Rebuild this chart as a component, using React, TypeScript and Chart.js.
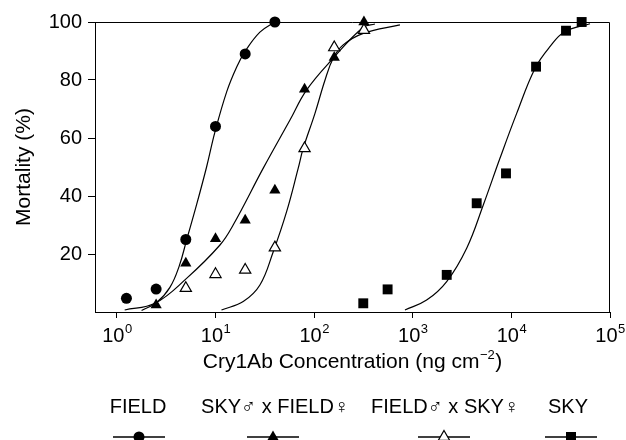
import React, { useEffect, useRef } from "react";
import { Chart, registerables } from "chart.js";

Chart.register(...registerables);

// ---- observed data (concentration in ng cm^-2, mortality %) ----
const FIELD_X = [1.25, 2.5, 5, 10, 20, 40];
const FIELD_Y = [4.7, 7.9, 25, 64, 89, 100];

const SKYxFIELD_X = [2.5, 5, 10, 20, 40, 80, 160, 320];
const SKYxFIELD_Y = [2.4, 16.8, 25.3, 31.6, 42, 76.8, 87.8, 100];

const FIELDxSKY_X = [5, 10, 20, 40, 80, 160, 320];
const FIELDxSKY_Y = [8.2, 13, 14.5, 22.2, 56.4, 91.2, 97.2];

const SKY_X = [315, 556, 2210, 4450, 8820, 17800, 35800, 51600];
const SKY_Y = [3.0, 7.8, 12.8, 37.5, 47.8, 84.6, 97, 100];

// ---- fitted curves ----
const FIELD_FIT_X = [1.78, 2.53, 3.45, 4.3, 5.09, 6.43, 8.12, 9.86, 13, 16.4, 19.9, 28.2, 40];
const FIELD_FIT_Y = [0.5, 3.3, 8.5, 16, 24.8, 37, 50, 62, 76, 84.5, 89.8, 96.5, 100];

const SKYxFIELD_FIT_X = [1.2, 2.43, 5.09, 11.1, 15.1, 30.5, 56.9, 84, 156, 315, 414];
const SKYxFIELD_FIT_Y = [0.7, 3.0, 11.6, 23.1, 30, 49.6, 66.2, 76.6, 87.5, 98.2, 99.3];

const FIELDxSKY_FIT_X = [11.5, 19.1, 28.2, 38.5, 52.6, 69, 77.5, 102, 129, 156, 197, 315, 741];
const FIELDxSKY_FIT_Y = [0.7, 3.6, 9.3, 20.8, 34.6, 49.6, 56.4, 68.5, 80, 87.5, 92.1, 96.1, 99];

const SKY_FIT_X = [834, 1383, 2208, 3522, 5190, 7660, 11320, 17350, 24600, 35000, 62700];
const SKY_FIT_Y = [0.7, 4.1, 10.5, 22, 36.9, 53, 68.5, 84.0, 91.5, 96.7, 99.4];

// ---- axes ----
const X_TICKS = [1, 10, 100, 1000, 10000, 100000];
const X_EXPONENTS = ["0", "1", "2", "3", "4", "5"];
const Y_TICKS = [20, 40, 60, 80, 100];

const LEGEND_LABELS = ["FIELD", "SKY\u2642 x FIELD\u2640", "FIELD\u2642 x SKY\u2640", "SKY"];
const LEGEND_STYLES = ["circle", "triangle", "openTriangle", "rect"];

const FONT = "'Liberation Sans', Arial, Helvetica, 'DejaVu Sans', sans-serif";

const toPts = (xs: number[], ys: number[]) => xs.map((x, i) => ({ x, y: ys[i] }));

function drawMarker(ctx: CanvasRenderingContext2D, style: string, x: number, y: number) {
  ctx.save();
  ctx.fillStyle = "#000";
  ctx.strokeStyle = "#000";
  ctx.lineWidth = 1.2;
  ctx.beginPath();
  if (style === "circle") {
    ctx.arc(x, y, 5.5, 0, Math.PI * 2);
    ctx.fill();
  } else if (style === "rect") {
    ctx.fillRect(x - 5, y - 5, 10, 10);
  } else {
    const r = 6.5;
    ctx.moveTo(x, y - r);
    ctx.lineTo(x + r * Math.sin((2 * Math.PI) / 3), y + r / 2);
    ctx.lineTo(x - r * Math.sin((2 * Math.PI) / 3), y + r / 2);
    ctx.closePath();
    if (style === "triangle") ctx.fill();
    else {
      ctx.fillStyle = "#fff";
      ctx.fill();
      ctx.stroke();
    }
  }
  ctx.restore();
}

const textPlugin = {
  id: "textPlugin",
  afterDraw(chart: any) {
    const ctx: CanvasRenderingContext2D = chart.ctx;
    const { left, right, top, bottom } = chart.chartArea;
    const xs = chart.scales.x;
    ctx.save();
    // box
    ctx.strokeStyle = "#000";
    ctx.lineWidth = 1;
    ctx.beginPath();
    ctx.moveTo(left, top + 0.5);
    ctx.lineTo(right - 0.5, top + 0.5);
    ctx.lineTo(right - 0.5, bottom);
    ctx.stroke();

    ctx.fillStyle = "#000";
    ctx.textBaseline = "alphabetic";
    // x tick labels: 10^n
    X_TICKS.forEach((v, i) => {
      const px = xs.getPixelForValue(v);
      ctx.font = `20px ${FONT}`;
      const w1 = ctx.measureText("10").width;
      ctx.font = `13px ${FONT}`;
      const w2 = ctx.measureText(X_EXPONENTS[i]).width;
      const start = px - (w1 + w2) / 2;
      ctx.font = `20px ${FONT}`;
      ctx.textAlign = "left";
      ctx.fillText("10", start, 342);
      ctx.font = `13px ${FONT}`;
      ctx.fillText(X_EXPONENTS[i], start + w1 + 0.5, 333);
    });

    // x title
    const parts = ["Cry1Ab Concentration (ng cm", "\u22122", ")"];
    ctx.font = `21px ${FONT}`;
    const a = ctx.measureText(parts[0]).width;
    const c = ctx.measureText(parts[2]).width;
    ctx.font = `13px ${FONT}`;
    const b = ctx.measureText(parts[1]).width;
    const sx = (left + right) / 2 - (a + b + c + 1) / 2;
    ctx.textAlign = "left";
    ctx.font = `21px ${FONT}`;
    ctx.fillText(parts[0], sx, 368);
    ctx.font = `13px ${FONT}`;
    ctx.fillText(parts[1], sx + a + 0.5, 359);
    ctx.font = `21px ${FONT}`;
    ctx.fillText(parts[2], sx + a + b + 1, 368);

    // y title
    ctx.save();
    ctx.translate(24, (top + bottom) / 2);
    ctx.rotate(-Math.PI / 2);
    ctx.textAlign = "center";
    ctx.textBaseline = "middle";
    ctx.font = `21px ${FONT}`;
    ctx.fillText("Mortality (%)", 0, 0);
    ctx.restore();

    // legend
    const textCenters = [138, 275, 445, 568];
    const symCenters = [139, 273, 444, 571];
    ctx.font = `20px ${FONT}`;
    ctx.textAlign = "center";
    LEGEND_LABELS.forEach((lab, i) => {
      ctx.fillText(lab, textCenters[i], 413);
      ctx.beginPath();
      ctx.lineWidth = 1.3;
      ctx.moveTo(symCenters[i] - 26, 437);
      ctx.lineTo(symCenters[i] + 26, 437);
      ctx.stroke();
      drawMarker(ctx, LEGEND_STYLES[i], symCenters[i], 437);
    });
    ctx.restore();
  },
};

const curve = (xs: number[], ys: number[]) => ({
  type: "line" as const,
  data: toPts(xs, ys),
  borderColor: "#000",
  borderWidth: 1.2,
  pointRadius: 0,
  fill: false,
  tension: 0.4,
  showLine: true,
  order: 2,
});

const points = (xs: number[], ys: number[], style: string, radius: number, open = false) => ({
  type: "scatter" as const,
  data: toPts(xs, ys),
  showLine: false,
  pointStyle: style,
  pointRadius: radius,
  pointBackgroundColor: open ? "#fff" : "#000",
  pointBorderColor: "#000",
  pointBorderWidth: open ? 1.2 : 0,
  order: 1,
});

export default function App() {
  const ref = useRef<HTMLCanvasElement>(null);
  useEffect(() => {
    if (!ref.current) return;
    const chart = new Chart(ref.current, {
      type: "scatter",
      data: {
        datasets: [
          curve(FIELD_FIT_X, FIELD_FIT_Y),
          curve(SKYxFIELD_FIT_X, SKYxFIELD_FIT_Y),
          curve(FIELDxSKY_FIT_X, FIELDxSKY_FIT_Y),
          curve(SKY_FIT_X, SKY_FIT_Y),
          points(FIELD_X, FIELD_Y, "circle", 5.5),
          points(SKYxFIELD_X, SKYxFIELD_Y, "triangle", 6.5),
          points(FIELDxSKY_X, FIELDxSKY_Y, "triangle", 6.5, true),
          points(SKY_X, SKY_Y, "rect", 7),
        ] as any,
      },
      options: {
        animation: false,
        responsive: false,
        maintainAspectRatio: false,
        clip: false as any,
        layout: { padding: { top: 22, right: 16, left: 0, bottom: 0 } },
        plugins: { legend: { display: false }, tooltip: { enabled: false } },
        scales: {
          x: {
            type: "logarithmic",
            min: 0.601,
            max: 100000,
            afterBuildTicks: (s: any) => {
              s.ticks = X_TICKS.map((v) => ({ value: v }));
            },
            afterFit: (s: any) => {
              s.height = 128;
            },
            ticks: { callback: () => "", autoSkip: false },
            grid: { drawOnChartArea: false, drawTicks: true, tickLength: 6, color: "#000", lineWidth: 1 },
            border: { color: "#000", width: 1 },
          },
          y: {
            min: 0,
            max: 100,
            afterBuildTicks: (s: any) => {
              s.ticks = Y_TICKS.map((v) => ({ value: v }));
            },
            afterFit: (s: any) => {
              s.width = 95;
            },
            ticks: { color: "#000", font: { size: 20, family: FONT }, padding: 6 },
            grid: { drawOnChartArea: false, drawTicks: true, tickLength: 7, color: "#000", lineWidth: 1 },
            border: { color: "#000", width: 1 },
          },
        },
      } as any,
      plugins: [textPlugin],
    });
    return () => chart.destroy();
  }, []);
  return (
    <div style={{ position: "fixed", left: 0, top: 0, width: 626, height: 440, background: "#fff" }}>
      <canvas ref={ref} width={626} height={440} style={{ width: 626, height: 440, display: "block" }} />
    </div>
  );
}
